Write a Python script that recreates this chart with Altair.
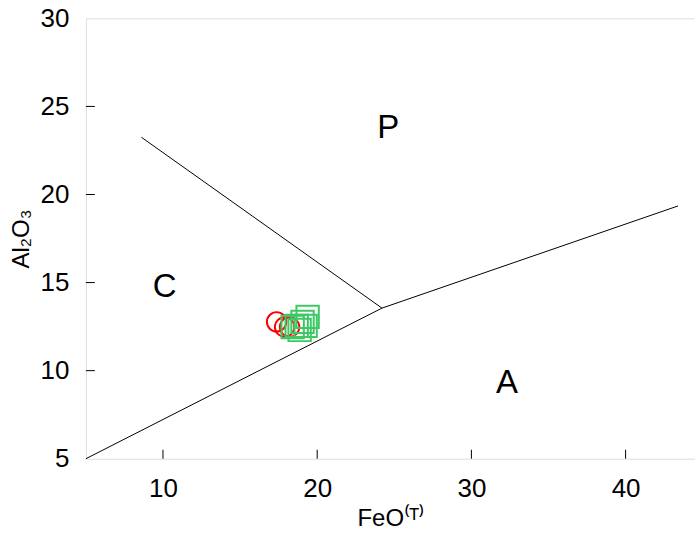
import altair as alt
import pandas as pd

# Sample data (FeO(T) vs Al2O3)
fe_red = [17.37, 17.89, 18.21]
al_red = [12.77, 12.48, 12.48]
fe_green = [19.38, 19.05, 18.67, 18.86, 18.41, 19.25]
al_green = [13.05, 12.77, 12.54, 12.31, 12.48, 12.54]

# Field boundaries (segments)
seg_x1 = [5.0, 24.2, 24.2]
seg_y1 = [5.0, 13.55, 13.55]
seg_x2 = [24.2, 43.4, 8.6]
seg_y2 = [13.55, 19.35, 23.25]

# Field labels
lab_text = ["P", "C", "A"]
lab_x = [24.6, 10.1, 32.3]
lab_y = [23.8, 14.75, 9.3]

x_ticks = [10, 20, 30, 40]
y_ticks = [5, 10, 15, 20, 25, 30]

FONT = "Liberation Sans"
W, H = 610, 441
xs = alt.Scale(domain=[5, 44.5], nice=False, zero=False)
ys = alt.Scale(domain=[5, 30], nice=False, zero=False)

xaxis = alt.Axis(values=x_ticks, ticks=False, grid=False, domain=False,
                 labelFontSize=26, labelPadding=17, labelColor="#000",
                 title="FeO⁽ᵀ⁾", titleFontSize=24, titleFontWeight="normal",
                 titleColor="#000", titlePadding=5, labelFont=FONT, titleFont=FONT)
yaxis = alt.Axis(values=y_ticks, ticks=False, grid=False, domain=False,
                 labelFontSize=26, labelPadding=17, labelColor="#000",
                 title="Al₂O₃", titleFontSize=24, titleFontWeight="normal",
                 titleColor="#000", titlePadding=7, labelFont=FONT, titleFont=FONT)

segs = pd.DataFrame({"x": seg_x1, "y": seg_y1, "x2": seg_x2, "y2": seg_y2})
base_rules = alt.Chart(segs).mark_rule(color="#000", strokeWidth=1).encode(
    x=alt.X("x:Q", scale=xs, axis=xaxis),
    y=alt.Y("y:Q", scale=ys, axis=yaxis),
    x2="x2:Q", y2="y2:Q",
)

xt = pd.DataFrame({"t": x_ticks})
xtick_marks = alt.Chart(xt).mark_rule(color="#000").encode(
    x=alt.X("t:Q", scale=xs), y=alt.value(H), y2=alt.value(H - 9))
yt = pd.DataFrame({"t": [10, 15, 20, 25]})
ytick_marks = alt.Chart(yt).mark_rule(color="#000").encode(
    y=alt.Y("t:Q", scale=ys), x=alt.value(0), x2=alt.value(9))

labs = pd.DataFrame({"t": lab_text, "x": lab_x, "y": lab_y})
labels = alt.Chart(labs).mark_text(fontSize=33, font=FONT, color="#000").encode(
    x=alt.X("x:Q", scale=xs), y=alt.Y("y:Q", scale=ys), text="t:N")

red = pd.DataFrame({"x": fe_red, "y": al_red})
green = pd.DataFrame({"x": fe_green, "y": al_green})
green_pts = alt.Chart(green).mark_point(shape="square", size=500, filled=False, opacity=1,
                                         color="#3cc864", strokeWidth=2).encode(
    x=alt.X("x:Q", scale=xs), y=alt.Y("y:Q", scale=ys))
red_pts = alt.Chart(red).mark_point(shape="circle", size=380, filled=False, opacity=1,
                                     color="#ff0000", strokeWidth=2).encode(
    x=alt.X("x:Q", scale=xs), y=alt.Y("y:Q", scale=ys))

chart = alt.layer(base_rules, xtick_marks, ytick_marks, labels, red_pts, green_pts).properties(
    width=W, height=H,
    autosize=alt.AutoSizeParams(type="none"),
    padding={"left": 86, "top": 18, "right": 0, "bottom": 75},
).configure_view(stroke="#000", strokeWidth=1).configure(background="white")

chart.save("out.html", embed_options={"renderer": "svg", "actions": False})
